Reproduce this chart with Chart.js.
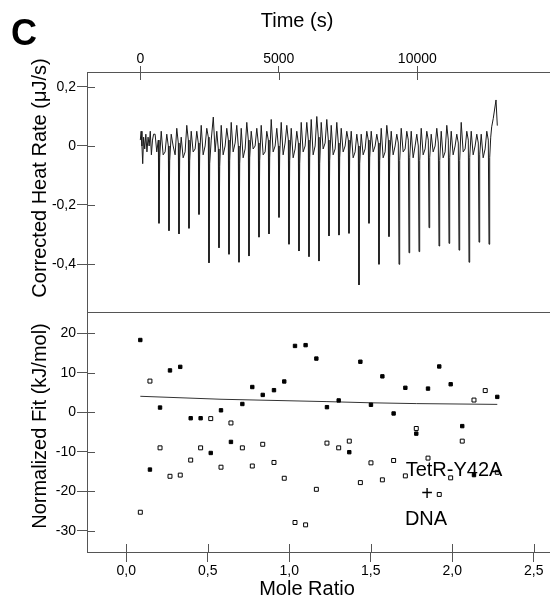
<!DOCTYPE html>
<html lang="en">
<head>
    <meta charset="UTF-8">
    <title>ITC TetR-Y42A + DNA</title>
    <script src="https://cdn.jsdelivr.net/npm/chart.js"></script>
    <style>
        body { margin: 0; background: #fff; }
        #wrap { position: relative; width: 550px; height: 603px; font-family: "Liberation Sans", Arial, sans-serif; color: #000; overflow: hidden; }
        canvas { position: absolute; left: 0; }
        .lbl { position: absolute; font-size: 20px; line-height: 20px; white-space: nowrap; }
        .mid { transform: translateX(-50%); }
        .ytitle { width: 300px; text-align: center; transform: rotate(-90deg); }
    </style>
    <script>
        // raw thermogram, top panel
        const heatTime = [
            0, 30, 60, 87, 120, 160, 200, 240, 280, 320, 360, 400, 440, 480,
            535, 595, 650, 675, 700, 755, 825,
            896, 956, 1011, 1036, 1061, 1116, 1186,
            1257, 1317, 1372, 1397, 1422, 1477, 1547,
            1618, 1678, 1733, 1758, 1783, 1838, 1908,
            1979, 2039, 2094, 2119, 2144, 2199, 2269,
            2340, 2400, 2455, 2480, 2505, 2560, 2635,
            2701, 2761, 2816, 2841, 2866, 2921, 2991,
            3062, 3122, 3177, 3202, 3227, 3282, 3352,
            3423, 3483, 3538, 3563, 3588, 3643, 3713,
            3784, 3844, 3899, 3924, 3949, 4004, 4074,
            4145, 4205, 4260, 4285, 4310, 4365, 4435,
            4506, 4566, 4621, 4646, 4671, 4726, 4796,
            4867, 4927, 4982, 5007, 5032, 5087, 5157,
            5228, 5288, 5343, 5368, 5393, 5448, 5518,
            5589, 5649, 5704, 5729, 5754, 5809, 5879,
            5950, 6010, 6065, 6090, 6115, 6170, 6240,
            6311, 6371, 6426, 6451, 6476, 6531, 6601,
            6672, 6732, 6787, 6812, 6837, 6892, 6962,
            7033, 7093, 7148, 7173, 7198, 7253, 7323,
            7394, 7454, 7509, 7534, 7559, 7614, 7684,
            7755, 7815, 7870, 7895, 7920, 7975, 8045,
            8116, 8176, 8231, 8256, 8281, 8336, 8406,
            8477, 8537, 8592, 8617, 8642, 8697, 8767,
            8838, 8898, 8953, 8978, 9003, 9058, 9128,
            9199, 9259, 9314, 9339, 9364, 9419, 9489,
            9560, 9620, 9675, 9700, 9725, 9780, 9850,
            9921, 9981, 10036, 10061, 10086, 10141, 10211,
            10282, 10342, 10397, 10422, 10447, 10502, 10572,
            10643, 10703, 10758, 10783, 10808, 10863, 10933,
            11004, 11064, 11119, 11144, 11169, 11224, 11294,
            11365, 11425, 11480, 11505, 11530, 11585, 11655,
            11726, 11786, 11841, 11866, 11891, 11946, 12016,
            12087, 12147, 12202, 12227, 12252, 12307, 12377,
            12448, 12508, 12563, 12588, 12613, 12650,
            12685, 12743, 12841, 12888
        ];
        const heatRate = [
            0.02, 0.05, 0.0, -0.06, 0.03, -0.01, 0.04, -0.02, 0.03, 0.0, 0.05, -0.03, 0.02, 0.04,
            0.04, -0.02, 0.02, -0.262, -0.04, 0.05, -0.03,
            -0.02, 0.04, 0.0, -0.287, -0.05, 0.04, 0.0,
            -0.03, 0.06, 0.01, -0.298, -0.04, 0.03, -0.04,
            -0.02, 0.07, 0.02, -0.279, -0.05, 0.05, -0.02,
            -0.01, 0.05, 0.01, -0.232, -0.03, 0.07, -0.03,
            0.0, 0.06, 0.03, -0.396, -0.06, 0.02, 0.098,
            -0.02, 0.05, -0.01, -0.345, -0.07, 0.07, -0.03,
            0.0, 0.06, 0.02, -0.367, -0.05, 0.08, -0.02,
            0.01, 0.07, 0.0, -0.394, -0.06, 0.06, -0.04,
            -0.01, 0.08, 0.02, -0.373, -0.04, 0.05, -0.01,
            0.0, 0.06, 0.01, -0.309, -0.05, 0.07, -0.03,
            -0.02, 0.05, 0.02, -0.298, -0.04, 0.09, -0.02,
            0.0, 0.06, 0.0, -0.242, -0.03, 0.08, -0.03,
            0.01, 0.07, 0.02, -0.333, -0.05, 0.06, -0.04,
            -0.01, 0.05, 0.01, -0.356, -0.06, 0.08, -0.02,
            0.0, 0.08, 0.02, -0.375, -0.04, 0.09, -0.03,
            0.0, 0.1, 0.03, -0.39, -0.06, 0.08, -0.01,
            0.01, 0.09, 0.02, -0.305, -0.05, 0.07, -0.03,
            -0.01, 0.08, 0.01, -0.302, -0.04, 0.06, -0.02,
            0.0, 0.05, 0.02, -0.296, -0.03, 0.05, -0.04,
            -0.02, 0.04, 0.0, -0.471, -0.06, 0.04, -0.03,
            -0.01, 0.05, 0.02, -0.262, -0.04, 0.05, -0.02,
            0.0, 0.04, 0.01, -0.401, -0.05, 0.06, -0.04,
            -0.02, 0.07, 0.02, -0.307, -0.04, 0.05, -0.03,
            0.0, 0.04, 0.01, -0.401, -0.05, 0.06, -0.02,
            -0.01, 0.05, 0.02, -0.362, -0.04, 0.05, -0.04,
            0.0, 0.04, 0.0, -0.358, -0.05, 0.06, -0.03,
            -0.01, 0.05, 0.02, -0.277, -0.04, 0.04, -0.02,
            0.0, 0.06, 0.01, -0.339, -0.05, 0.05, -0.04,
            -0.02, 0.07, 0.02, -0.33, -0.04, 0.05, -0.03,
            0.0, 0.04, 0.01, -0.353, -0.05, 0.08, -0.02,
            -0.01, 0.05, 0.02, -0.394, -0.04, 0.05, -0.03,
            0.0, 0.04, 0.01, -0.326, -0.03, 0.04, -0.04,
            -0.01, 0.05, 0.02, -0.333, -0.04, 0.03,
            0.065, 0.094, 0.156, 0.069
        ];
        const timeTicks = [0, 5000, 10000];
        const timeTickLabels = ['0', '5000', '10000'];
        const heatTicks = [0.2, 0, -0.2, -0.4];
        const heatTickLabels = ['0,2', '0', '-0,2', '-0,4'];

        // integrated heats, bottom panel
        const moleRatio = [0.086, 0.145, 0.207, 0.268, 0.331, 0.395, 0.456, 0.518, 0.581, 0.642,
            0.712, 0.773, 0.837, 0.906, 0.969, 1.035, 1.100, 1.166, 1.231, 1.303,
            1.368, 1.436, 1.501, 1.571, 1.640, 1.712, 1.779, 1.851, 1.920, 1.990,
            2.061, 2.133, 2.202, 2.276];
        const fitFilled = [18.3, -14.5, 1.2, 10.6, 11.5, -1.5, -1.5, -10.3, 0.5, -7.5,
            2.1, 6.4, 4.4, 5.6, 7.8, 16.8, 17.0, 13.6, 1.3, 3.0,
            -10.1, 12.8, 1.9, 9.1, -0.3, 6.2, -5.4, 6.0, 11.6, 7.1,
            -3.5, -15.9, null, 3.9];
        const fitOpen = [-25.3, 7.9, -9.0, -16.2, -15.9, -12.1, -9.0, -1.6, -13.9, -2.7,
            -9.0, -13.6, -8.1, -12.7, -16.7, -27.9, -28.5, -19.5, -7.8, -9.0,
            -7.3, -17.8, -12.8, -17.1, -12.2, -16.1, -4.1, -11.6, -20.8, -16.6,
            -7.3, 3.1, 5.5, -15.2];
        const fitLineX = [0.086, 0.581, 1.231, 1.501, 1.779, 2.276];
        const fitLineY = [4.05, 3.3, 2.7, 2.4, 2.2, 2.0];
        const moleTicks = [0, 0.5, 1, 1.5, 2, 2.5];
        const moleTickLabels = ['0,0', '0,5', '1,0', '1,5', '2,0', '2,5'];
        const fitTicks = [20, 10, 0, -10, -20, -30];

        const axisGray = '#555';
        const tickFont = { family: 'Liberation Sans, Arial, sans-serif', size: 14 };

        // ticks that cross into the plot, plus the shared panel line
        const innerTicks = {
            id: 'innerTicks',
            afterDraw(chart, args, opts) {
                const ctx = chart.ctx;
                const area = chart.chartArea;
                ctx.save();
                ctx.strokeStyle = axisGray;
                ctx.lineWidth = 1;
                Object.values(chart.scales).forEach(s => {
                    s.ticks.forEach(t => {
                        const p = Math.round(s.getPixelForValue(t.value)) + 0.5;
                        ctx.beginPath();
                        if (s.isHorizontal()) {
                            const y0 = s.position === 'top' ? area.top : area.bottom;
                            const dir = s.position === 'top' ? 1 : -1;
                            ctx.moveTo(p, y0);
                            ctx.lineTo(p, y0 + dir * 8);
                        } else {
                            ctx.moveTo(area.left, p);
                            ctx.lineTo(area.left + 8, p);
                        }
                        ctx.stroke();
                    });
                });
                if (opts.topLine) {
                    ctx.beginPath();
                    ctx.moveTo(area.left, area.top + 0.5);
                    ctx.lineTo(area.right, area.top + 0.5);
                    ctx.stroke();
                }
                ctx.restore();
            }
        };

        // fixed axis size, no extra padding for edge labels
        function fixSize(s, size) {
            if (s.isHorizontal()) s.height = size; else s.width = size;
            s.paddingLeft = 0;
            s.paddingRight = 0;
            s.paddingTop = 0;
            s.paddingBottom = 0;
        }

        function axisBase() {
            return {
                type: 'linear',
                grid: { display: true, drawOnChartArea: false, drawTicks: true, tickLength: 10, color: axisGray },
                border: { display: true, color: axisGray, width: 1 },
                ticks: { color: '#000', font: tickFont, padding: 1 }
            };
        }

        document.addEventListener('DOMContentLoaded', function() {
            Chart.defaults.animation = false;

            const heatX = axisBase();
            Object.assign(heatX, {
                position: 'top', min: -1924, max: 14790,
                afterBuildTicks: s => { s.ticks = timeTicks.map(v => ({ value: v })); },
                afterFit: s => fixSize(s, 72)
            });
            heatX.grid.tickLength = 6;
            heatX.ticks.padding = -2;
            heatX.ticks.callback = (v, i) => timeTickLabels[i];

            const heatY = axisBase();
            Object.assign(heatY, {
                min: -0.5627, max: 0.2508,
                afterBuildTicks: s => { s.ticks = heatTicks.map(v => ({ value: v })); },
                afterFit: s => fixSize(s, 87)
            });
            heatY.ticks.callback = (v, i) => heatTickLabels[i];

            new Chart(document.getElementById('heatChart'), {
                type: 'line',
                data: {
                    datasets: [{
                        data: heatTime.map((t, i) => ({ x: t, y: heatRate[i] })),
                        borderColor: '#1a1a1a',
                        borderWidth: 1,
                        pointRadius: 0,
                        tension: 0
                    }]
                },
                options: {
                    responsive: false,
                    layout: { padding: 0, autoPadding: false },
                    plugins: { legend: { display: false }, tooltip: { enabled: false }, innerTicks: { topLine: false } },
                    scales: { x: heatX, y: heatY }
                },
                plugins: [innerTicks]
            });

            const moleX = axisBase();
            Object.assign(moleX, {
                position: 'bottom', min: -0.2411, max: 2.5994,
                afterBuildTicks: s => { s.ticks = moleTicks.map(v => ({ value: v })); },
                afterFit: s => fixSize(s, 51)
            });
            moleX.ticks.callback = (v, i) => moleTickLabels[i];

            const fitY = axisBase();
            Object.assign(fitY, {
                min: -35.37, max: 25.39,
                afterBuildTicks: s => { s.ticks = fitTicks.map(v => ({ value: v })); },
                afterFit: s => fixSize(s, 87)
            });

            const pts = ys => moleRatio.map((m, i) => ({ x: m, y: ys[i] })).filter(p => p.y !== null);

            new Chart(document.getElementById('fitChart'), {
                type: 'scatter',
                data: {
                    datasets: [
                        {
                            data: pts(fitFilled),
                            pointStyle: 'rect', pointRadius: 2.4,
                            backgroundColor: '#000', borderColor: '#000', borderWidth: 1
                        },
                        {
                            data: pts(fitOpen),
                            pointStyle: 'rect', pointRadius: 2.8,
                            backgroundColor: '#fff', borderColor: '#000', borderWidth: 1
                        },
                        {
                            type: 'line',
                            data: fitLineX.map((m, i) => ({ x: m, y: fitLineY[i] })),
                            borderColor: '#333', borderWidth: 1, pointRadius: 0, tension: 0
                        }
                    ]
                },
                options: {
                    responsive: false,
                    layout: { padding: 0, autoPadding: false },
                    plugins: { legend: { display: false }, tooltip: { enabled: false }, innerTicks: { topLine: true } },
                    scales: { x: moleX, y: fitY }
                },
                plugins: [innerTicks]
            });
        });
    </script>
</head>
<body>
    <div id="wrap">
        <canvas id="heatChart" width="550" height="312" style="top:0"></canvas>
        <canvas id="fitChart" width="550" height="291" style="top:312px"></canvas>

        <div class="lbl" style="left:11px; top:15px; font-size:36px; line-height:36px; font-weight:bold;">C</div>
        <div class="lbl mid" style="left:297px; top:10px;">Time (s)</div>
        <div class="lbl mid" style="left:307px; top:578px;">Mole Ratio</div>
        <div class="lbl ytitle" style="left:-111px; top:168px;">Corrected Heat Rate (μJ/s)</div>
        <div class="lbl ytitle" style="left:-111px; top:416px;">Normalized Fit (kJ/mol)</div>

        <div class="lbl mid" style="left:454px; top:459px;">TetR-Y42A</div>
        <div class="lbl mid" style="left:427px; top:483px;">+</div>
        <div class="lbl mid" style="left:426px; top:508px;">DNA</div>
    </div>
</body>
</html>
